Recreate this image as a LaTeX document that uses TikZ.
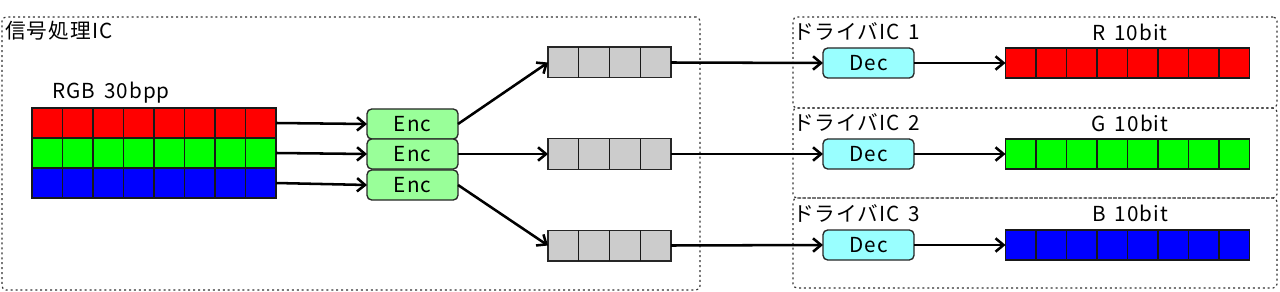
\documentclass[tikz,border=0pt]{standalone}
\usepackage{fontspec}
\setmainfont{Noto Sans CJK JP}[LetterSpace=5,WordSpace=1.6]
\usetikzlibrary{arrows.meta,calc}
\definecolor{encg}{HTML}{99FF99}
\definecolor{decc}{HTML}{99FFFF}
\definecolor{qgray}{HTML}{CCCCCC}
\begin{document}
\begin{tikzpicture}[x=0.75pt,y=-0.75pt,
  every node/.style={font=\fontsize{15.5}{17}\selectfont},
  cellrow/.style={draw=black!90, line width=1pt, inner sep=0pt, outer sep=0pt,
    minimum width=183pt, minimum height=22.5pt},
  queue/.style={draw=black!85, fill=qgray, line width=1pt, inner sep=0pt, outer sep=0pt,
    minimum width=92.25pt, minimum height=23pt},
  codec/.style={draw=black!85, line width=1pt, rounded corners=3.5pt, inner sep=0pt,
    outer sep=0pt, minimum width=68.25pt, minimum height=22.5pt},
  dotbox/.style={draw=black!80, line width=0.9pt, dash pattern=on 1.5pt off 2.2pt,
    rounded corners=3pt, inner sep=0pt, outer sep=0pt},
  flow/.style={line width=1.9pt, -{Straight Barb[length=6pt,width=10pt,line width=1.9pt]}},
  cellline/.style={draw=black!90, line width=1pt},
  lbl/.style={inner sep=0pt}
]
\useasboundingbox (0,0) rectangle (1280,292);

% containers
\node[dotbox, minimum width=523.5pt, minimum height=204.75pt] (sig) at (351,153.5) {};
\node[dotbox, minimum width=363pt, minimum height=68.25pt] (drv1) at (1035,62.5) {};
\node[dotbox, minimum width=363pt, minimum height=67.5pt] (drv2) at (1035,153) {};
\node[dotbox, minimum width=363pt, minimum height=67.5pt] (drv3) at (1035,243) {};

\node[lbl, anchor=west] (sigl) at (5,31) {信号処理IC};
\node[lbl, anchor=west] (d1l) at (793,31) {ドライバIC 1};
\node[lbl, anchor=west] (d2l) at (793,122) {ドライバIC 2};
\node[lbl, anchor=west] (d3l) at (793,213) {ドライバIC 3};

% RGB source
\node[lbl] (rgbl) at (111,93) {RGB 30bpp};
\node[cellrow, fill=red] (red) at (154,123) {};
\node[cellrow, fill=green] (green) at (154,153) {};
\node[cellrow, fill=blue] (blue) at (154,183) {};

% encoders
\node[codec, fill=encg] (enc1) at (412.5,124) {Enc};
\node[codec, fill=encg] (enc2) at (412.5,154) {Enc};
\node[codec, fill=encg] (enc3) at (412.5,185) {Enc};

% queues
\node[queue] (q1) at (609.5,62.5) {};
\node[queue] (q2) at (609.5,154) {};
\node[queue] (q3) at (609.5,245.5) {};

% decoders
\node[codec, fill=decc] (dec1) at (868.5,63) {Dec};
\node[codec, fill=decc] (dec2) at (868.5,154) {Dec};
\node[codec, fill=decc] (dec3) at (868.5,245) {Dec};

% outputs
\node[lbl] (rl) at (1130,32) {R 10bit};
\node[lbl] (gl) at (1130,123) {G 10bit};
\node[lbl] (bl) at (1130,213) {B 10bit};
\node[cellrow, fill=red] (rb) at (1127.5,63) {};
\node[cellrow, fill=green] (gb) at (1127.5,154) {};
\node[cellrow, fill=blue] (bb) at (1127.5,245) {};

% cell dividers
\foreach \n in {red,green,blue,rb,gb,bb}{
  \foreach \i in {1,...,7}{
    \draw[cellline] ($(\n.north west)!\i/8!(\n.north east)$) -- ($(\n.south west)!\i/8!(\n.south east)$);
  }
}
\foreach \n in {q1,q2,q3}{
  \foreach \i in {1,2,3}{
    \draw[cellline] ($(\n.north west)!\i/4!(\n.north east)$) -- ($(\n.south west)!\i/4!(\n.south east)$);
  }
}

% connectors
\draw[flow] (red.east) -- (enc1.west);
\draw[flow] (green.east) -- (enc2.west);
\draw[flow] (blue.east) -- (enc3.west);
\draw[flow] (enc1.east) -- (q1.west);
\draw[flow] (enc2.east) -- (q2.west);
\draw[flow] (enc3.east) -- (q3.west);
\draw[flow] (q1.east) -- (dec1.west);
\draw[flow] (q2.east) -- (dec2.west);
\draw[flow] (q3.east) -- (dec3.west);
\draw[flow] (dec1.east) -- (rb.west);
\draw[flow] (dec2.east) -- (gb.west);
\draw[flow] (dec3.east) -- (bb.west);
\end{tikzpicture}
\end{document}
